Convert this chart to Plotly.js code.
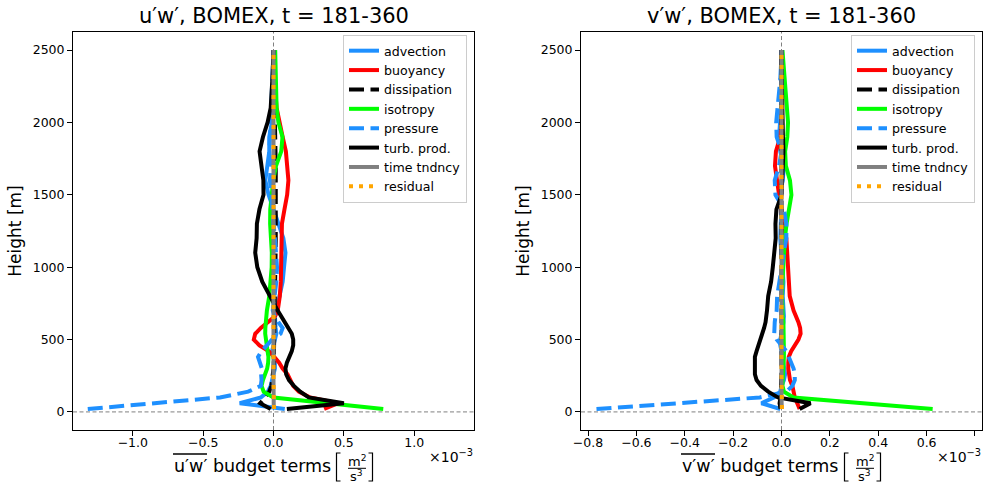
<!DOCTYPE html>
<html>
<head>
<meta charset="utf-8">
<script src="https://cdn.plot.ly/plotly-3.0.1.min.js"></script>
<style>html,body{margin:0;padding:0;background:#fff;}#chart{width:984px;height:485px;}</style>
</head>
<body>
<div id="chart"></div>
<script>
// ---------------- data (budget terms in units of 1e-3 m^2/s^3) ----------------
const heights = [20,60,100,140,180,220,260,300,340,380,420,460,500,540,580,620,660,700,800,900,1000,1100,1200,1300,1400,1500,1600,1700,1800,1900,2000,2100,2200,2300,2400,2500];

const seriesNames = ['advection','buoyancy','dissipation','isotropy','pressure','turb. prod.','time tndncy','residual'];

// u'w' panel
const uw_adv  = [0.08,-0.24,-0.09,-0.04,-0.02,-0.01,0.0,0.01,0.01,0.0,-0.01,0.0,0.01,0.02,0.015,0.01,0.01,0.02,0.045,0.065,0.075,0.085,0.07,0.035,0.005,-0.035,-0.058,-0.045,-0.03,-0.03,-0.012,-0.005,0.0,0.0,0.0,0.0];
const uw_buoy = [0.36,0.46,0.26,0.18,0.14,0.12,0.1,0.065,0.04,0.005,-0.035,-0.1,-0.14,-0.13,-0.09,-0.04,0.01,0.03,0.045,0.052,0.055,0.058,0.058,0.06,0.078,0.097,0.106,0.1,0.088,0.065,0.04,0.022,0.014,0.01,0.006,0.0];
const uw_diss = [-0.02,-0.095,-0.06,-0.03,-0.015,-0.008,-0.004,0.0,0.002,0.003,0.003,0.004,0.004,0.005,0.005,0.006,0.006,0.007,0.01,0.012,0.014,0.015,0.016,0.017,0.018,0.018,0.017,0.016,0.014,0.012,0.01,0.008,0.006,0.004,0.002,0.0];
const uw_iso  = [0.78,0.37,0.0,-0.07,-0.085,-0.075,-0.06,-0.045,-0.038,-0.036,-0.042,-0.048,-0.055,-0.059,-0.058,-0.055,-0.05,-0.047,-0.03,-0.02,-0.013,-0.012,-0.02,-0.024,-0.023,-0.012,-0.002,0.018,0.055,0.064,0.035,0.022,0.019,0.016,0.014,0.012];
const uw_pres = [-1.32,-0.85,-0.38,-0.18,-0.09,-0.085,-0.088,-0.083,-0.095,-0.11,-0.085,-0.05,-0.01,0.05,0.065,0.035,0.01,-0.005,0.01,0.02,0.025,0.02,0.01,0.0,-0.01,-0.02,-0.025,-0.02,-0.03,-0.025,-0.02,-0.015,-0.01,-0.005,0.0,0.0];
const uw_turb = [0.095,0.5,0.25,0.19,0.145,0.11,0.09,0.085,0.095,0.115,0.13,0.14,0.14,0.13,0.105,0.075,0.05,0.03,-0.025,-0.08,-0.115,-0.13,-0.12,-0.118,-0.1,-0.071,-0.072,-0.088,-0.099,-0.075,-0.042,-0.02,-0.012,-0.008,-0.004,0.0];
const uw_time = [0.002,0.003,0.002,0.001,0.0,0.0,0.0,0.0,0.0,0.0,0.0,0.0,0.0,0.0,0.0,0.0,0.0,0.0,0.0,0.0,0.0,0.0,0.0,0.0,0.0,0.0,0.0,0.0,0.0,0.0,0.0,0.0,0.0,0.0,0.0,0.0];
const uw_res  = [0.004,0.002,0.001,0.0,0.0,0.0,0.0,0.0,0.0,0.0,0.0,0.0,0.0,0.0,0.0,0.0,0.0,0.0,0.0,0.0,0.0,0.0,0.0,0.0,0.0,0.0,0.0,0.0,0.0,0.0,0.0,0.0,0.0,0.0,0.0,0.0];

// v'w' panel
const vw_adv  = [-0.005,-0.083,-0.03,-0.005,0.0,0.01,0.015,0.012,0.008,0.005,0.0,-0.005,-0.005,0.0,0.005,0.008,0.01,0.008,0.005,0.008,0.005,0.0,-0.005,-0.003,0.0,-0.008,0.005,0.01,-0.005,-0.01,-0.005,0.0,0.002,0.0,0.0,0.0];
const vw_buoy = [0.075,0.065,0.055,0.05,0.045,0.035,0.03,0.028,0.028,0.03,0.04,0.055,0.07,0.079,0.077,0.07,0.06,0.05,0.034,0.03,0.028,0.025,0.02,0.005,0.0,-0.01,-0.02,-0.027,-0.023,-0.005,0.0,0.003,0.004,0.003,0.002,0.0];
const vw_diss = [-0.004,-0.008,-0.004,-0.002,-0.001,0.0,0.0,0.0,0.0,0.0,0.0,0.0,0.0,0.0,0.0,0.0,0.0,0.0,0.0,0.0,0.0,0.0,0.002,0.003,0.004,0.004,0.003,0.002,0.001,0.0,0.0,0.0,0.0,0.0,0.0,0.0];
const vw_iso  = [0.625,0.34,0.05,0.01,0.004,0.005,0.007,0.008,0.01,0.01,0.01,0.01,0.01,0.01,0.01,0.008,0.005,0.004,0.002,0.004,0.007,0.013,0.014,0.021,0.033,0.041,0.035,0.018,0.015,0.024,0.027,0.022,0.018,0.012,0.008,0.004];
const vw_pres = [-0.765,-0.43,-0.09,0.02,0.045,0.055,0.055,0.05,0.04,0.03,0.02,0.0,-0.02,-0.03,-0.03,-0.028,-0.025,-0.02,-0.018,-0.01,0.0,0.01,0.02,0.02,0.01,-0.025,-0.028,-0.01,0.0,-0.02,-0.022,-0.015,-0.01,-0.005,-0.002,0.0];
const vw_turb = [0.075,0.12,-0.015,-0.055,-0.085,-0.103,-0.11,-0.11,-0.11,-0.11,-0.103,-0.095,-0.085,-0.077,-0.072,-0.066,-0.062,-0.06,-0.055,-0.043,-0.036,-0.03,-0.024,-0.025,-0.021,0.0,0.004,0.006,0.008,0.006,0.004,0.003,0.002,0.001,0.0,0.0];
const vw_time = [0.001,0.002,0.001,0.0,0.0,0.0,0.0,0.0,0.0,0.0,0.0,0.0,0.0,0.0,0.0,0.0,0.0,0.0,0.0,0.0,0.0,0.0,0.0,0.0,0.0,0.0,0.0,0.0,0.0,0.0,0.0,0.0,0.0,0.0,0.0,0.0];
const vw_res  = [0.002,0.001,0.0,0.0,0.0,0.0,0.0,0.0,0.0,0.0,0.0,0.0,0.0,0.0,0.0,0.0,0.0,0.0,0.0,0.0,0.0,0.0,0.0,0.0,0.0,0.0,0.0,0.0,0.0,0.0,0.0,0.0,0.0,0.0,0.0,0.0];

// ticks
const yTickVals = [0,500,1000,1500,2000,2500];
const uwTickVals = [-1.0,-0.5,0.0,0.5,1.0];
const uwTickText = ['\u22121.0','\u22120.5','0.0','0.5','1.0'];
const vwTickVals = [-0.8,-0.6,-0.4,-0.2,0.0,0.2,0.4,0.6,0.8];
const vwTickText = ['\u22120.8','\u22120.6','\u22120.4','\u22120.2','0.0','0.2','0.4','0.6','0.8'];

const titles = ['u\u2032w\u2032, BOMEX, t = 181-360', 'v\u2032w\u2032, BOMEX, t = 181-360'];
const xLabelVars = ['u\u2032w\u2032', 'v\u2032w\u2032'];

// ---------------- styles ----------------
const FONT = 'DejaVu Sans, Liberation Sans, sans-serif';
const DASH = '15px,6.5px';
const DOT = '4px,6px';
const styles = [
  {color:'#1E90FF', dash:'solid', width:4},
  {color:'#FF0000', dash:'solid', width:4},
  {color:'#000000', dash:DASH, width:4},
  {color:'#00FF00', dash:'solid', width:4},
  {color:'#1E90FF', dash:DASH, width:4},
  {color:'#000000', dash:'solid', width:4},
  {color:'#808080', dash:'solid', width:4},
  {color:'#FFA500', dash:DOT, width:4}
];

const panels = [
  {series:[uw_adv,uw_buoy,uw_diss,uw_iso,uw_pres,uw_turb,uw_time,uw_res], xa:'x', ya:'y', legend:'legend'},
  {series:[vw_adv,vw_buoy,vw_diss,vw_iso,vw_pres,vw_turb,vw_time,vw_res], xa:'x2', ya:'y2', legend:'legend2'}
];

const traces = [];
panels.forEach(p => {
  p.series.forEach((vals, i) => {
    traces.push({
      type:'scatter', mode:'lines', x: vals, y: heights,
      xaxis:p.xa, yaxis:p.ya, name: seriesNames[i], legend:p.legend,
      line:{color:styles[i].color, dash:styles[i].dash, width:styles[i].width},
      hoverinfo:'skip'
    });
  });
});

// ---------------- layout geometry (pixels) ----------------
const W = 984, H = 485, MT = 32, MB = 55;
const PH = H - MT - MB;
const fx = p => p / W;
const fy = p => (H - MB - p) / PH;

const panelPx = [[73, 474], [581, 982]];
const centers = panelPx.map(d => (d[0] + d[1]) / 2);

function axisCommon() {
  return {
    showgrid:false, zeroline:false, showline:true, mirror:true,
    linecolor:'#000', linewidth:1, ticks:'outside', ticklen:5, tickwidth:1, tickcolor:'#000',
    tickfont:{family:FONT, size:12.5, color:'#000'}
  };
}

const yTitle = {text:'Height [m]', font:{family:FONT, size:17, color:'#000'}, standoff:6};

const layout = {
  width:W, height:H,
  margin:{l:0, r:0, t:MT, b:MB, pad:0},
  paper_bgcolor:'#fff', plot_bgcolor:'#fff',
  font:{family:FONT, color:'#000', size:13},
  showlegend:true,
  xaxis: Object.assign(axisCommon(), {domain:[fx(73), fx(474)], anchor:'y', range:[-1.425, 1.425], tickvals:uwTickVals, ticktext:uwTickText, ticklabelstandoff:-4}),
  yaxis: Object.assign(axisCommon(), {domain:[0,1], anchor:'x', range:[-125, 2625], tickvals:yTickVals, title:yTitle}),
  xaxis2: Object.assign(axisCommon(), {domain:[fx(581), fx(982)], anchor:'y2', range:[-0.829, 0.829], tickvals:vwTickVals, ticktext:vwTickText, ticklabelstandoff:-4}),
  yaxis2: Object.assign(axisCommon(), {domain:[0,1], anchor:'x2', range:[-125, 2625], tickvals:yTickVals, title:yTitle}),
  legend: {x:fx(467), xanchor:'right', y:fy(35), yanchor:'top', bgcolor:'rgba(255,255,255,0.85)', bordercolor:'#cccccc', borderwidth:1,
           font:{family:FONT, size:12.6, color:'#000'}, tracegroupgap:0, itemwidth:30},
  legend2:{x:fx(975), xanchor:'right', y:fy(35), yanchor:'top', bgcolor:'rgba(255,255,255,0.85)', bordercolor:'#cccccc', borderwidth:1,
           font:{family:FONT, size:12.6, color:'#000'}, tracegroupgap:0, itemwidth:30},
  shapes:[], annotations:[]
};

// zero reference lines
[['x','y'],['x2','y2']].forEach(a => {
  layout.shapes.push({type:'line', xref:a[0]+' domain', yref:a[1], x0:0, x1:1, y0:0, y1:0, layer:'below',
    line:{color:'#808080', width:1, dash:'4px,2.5px'}});
  layout.shapes.push({type:'line', xref:a[0], yref:a[1]+' domain', x0:0, x1:0, y0:0, y1:1, layer:'below',
    line:{color:'#808080', width:1, dash:'4px,2.5px'}});
});

// titles, x labels, exponent labels
centers.forEach((cx, k) => {
  layout.annotations.push({xref:'paper', yref:'paper', x:fx(cx), y:fy(16), xanchor:'center', yanchor:'middle',
    text:titles[k], showarrow:false, font:{family:FONT, size:21, color:'#000'}});
  // x label main text
  const tx = cx - 101.5;
  layout.annotations.push({xref:'paper', yref:'paper', x:fx(tx), y:fy(466), xanchor:'left', yanchor:'middle',
    text:xLabelVars[k] + ' budget terms', showarrow:false, font:{family:FONT, size:17.5, color:'#000'}});
  // overline
  layout.shapes.push({type:'line', xref:'paper', yref:'paper', x0:fx(tx+1), x1:fx(tx+35), y0:fy(454), y1:fy(454),
    line:{color:'#000', width:1.3}});
  // brackets
  const bl = cx + 63, br = cx + 99;
  layout.shapes.push({type:'path', xref:'paper', yref:'paper',
    path:`M ${fx(bl+4)},${fy(453)} L ${fx(bl)},${fy(453)} L ${fx(bl)},${fy(481)} L ${fx(bl+4)},${fy(481)}`,
    line:{color:'#000', width:1.2}});
  layout.shapes.push({type:'path', xref:'paper', yref:'paper',
    path:`M ${fx(br-4)},${fy(453)} L ${fx(br)},${fy(453)} L ${fx(br)},${fy(481)} L ${fx(br-4)},${fy(481)}`,
    line:{color:'#000', width:1.2}});
  // fraction
  layout.shapes.push({type:'line', xref:'paper', yref:'paper', x0:fx(cx+74.5), x1:fx(cx+92.5), y0:fy(468.3), y1:fy(468.3),
    line:{color:'#000', width:1}});
  layout.annotations.push({xref:'paper', yref:'paper', x:fx(cx+83.5), y:fy(461), xanchor:'center', yanchor:'middle',
    text:'m<sup>2</sup>', showarrow:false, font:{family:FONT, size:13, color:'#000'}});
  layout.annotations.push({xref:'paper', yref:'paper', x:fx(cx+83), y:fy(476), xanchor:'center', yanchor:'middle',
    text:'s<sup>3</sup>', showarrow:false, font:{family:FONT, size:13, color:'#000'}});
  // exponent label
  layout.annotations.push({xref:'paper', yref:'paper', x:fx(panelPx[k][1] + 1), y:fy(456), xanchor:'right', yanchor:'middle',
    text:'\u00d710<sup>\u22123</sup>', showarrow:false, font:{family:FONT, size:14, color:'#000'}});
});

Plotly.newPlot('chart', traces, layout, {displayModeBar:false, staticPlot:true});
</script>
</body>
</html>
